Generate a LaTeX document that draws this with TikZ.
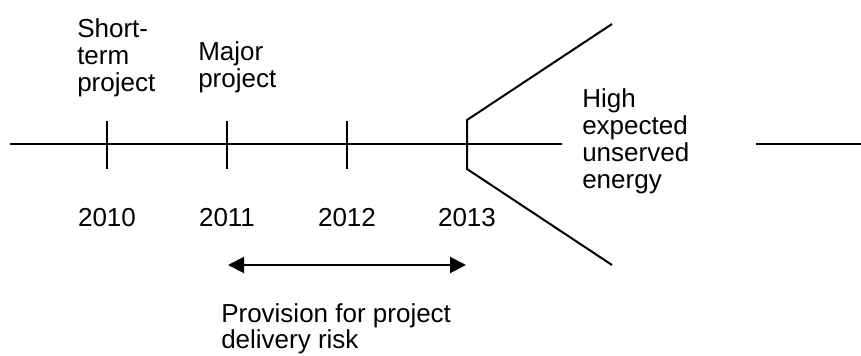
\documentclass[tikz,border=0pt]{standalone}
\usepackage{fontspec}
\setmainfont{Liberation Sans}
\usetikzlibrary{arrows.meta}
\begin{document}
\begin{tikzpicture}[x=0.75pt,y=-0.75pt,
  axisline/.style={line width=1.5pt},
  lbl/.style={inner sep=0pt,font=\fontsize{19.5pt}{20.25pt}\selectfont},
  blocklbl/.style={lbl,align=left,anchor=base west},
  yearlbl/.style={lbl,anchor=base},
  span/.style={line width=1.5pt,{Triangle[length=12pt,width=12pt]}-{Triangle[length=12pt,width=12pt]}}]
\useasboundingbox (0,0) rectangle (861,356);
% axis
\coordinate (a0) at (10,144);
\coordinate (a1) at (562,144);
\coordinate (b0) at (756,144);
\coordinate (b1) at (861,144);
\draw[axisline] (a0) -- (a1);
\draw[axisline] (b0) -- (b1);
% ticks
\coordinate (t1a) at (107,121); \coordinate (t1b) at (107,169);
\coordinate (t2a) at (227,121); \coordinate (t2b) at (227,169);
\coordinate (t3a) at (347,121); \coordinate (t3b) at (347,169);
\coordinate (t4a) at (467,120); \coordinate (t4b) at (467,169);
\draw[axisline] (t1a) -- (t1b);
\draw[axisline] (t2a) -- (t2b);
\draw[axisline] (t3a) -- (t3b);
\coordinate (up) at (612,24);
\coordinate (dn) at (612,265);
\draw[axisline,line join=miter] (up) -- (t4a) -- (t4b) -- (dn);
% years
\node[yearlbl] (y2010) at (107,227) {2010};
\node[yearlbl] (y2011) at (227,227) {2011};
\node[yearlbl] (y2012) at (347,227) {2012};
\node[yearlbl] (y2013) at (467,227) {2013};
% labels (anchored at the baseline of the last line)
\node[blocklbl] (short) at (77,92) {Short-\\term\\project};
\node[blocklbl] (major) at (198,88) {Major\\project};
\node[blocklbl] (high) at (582,189) {High\\expected\\unserved\\energy};
\node[blocklbl] (prov) at (221,349) {Provision for project\\delivery risk};
% span arrow
\coordinate (s0) at (228,265);
\coordinate (s1) at (466,265);
\draw[span] (s0) -- (s1);
\end{tikzpicture}
\end{document}
